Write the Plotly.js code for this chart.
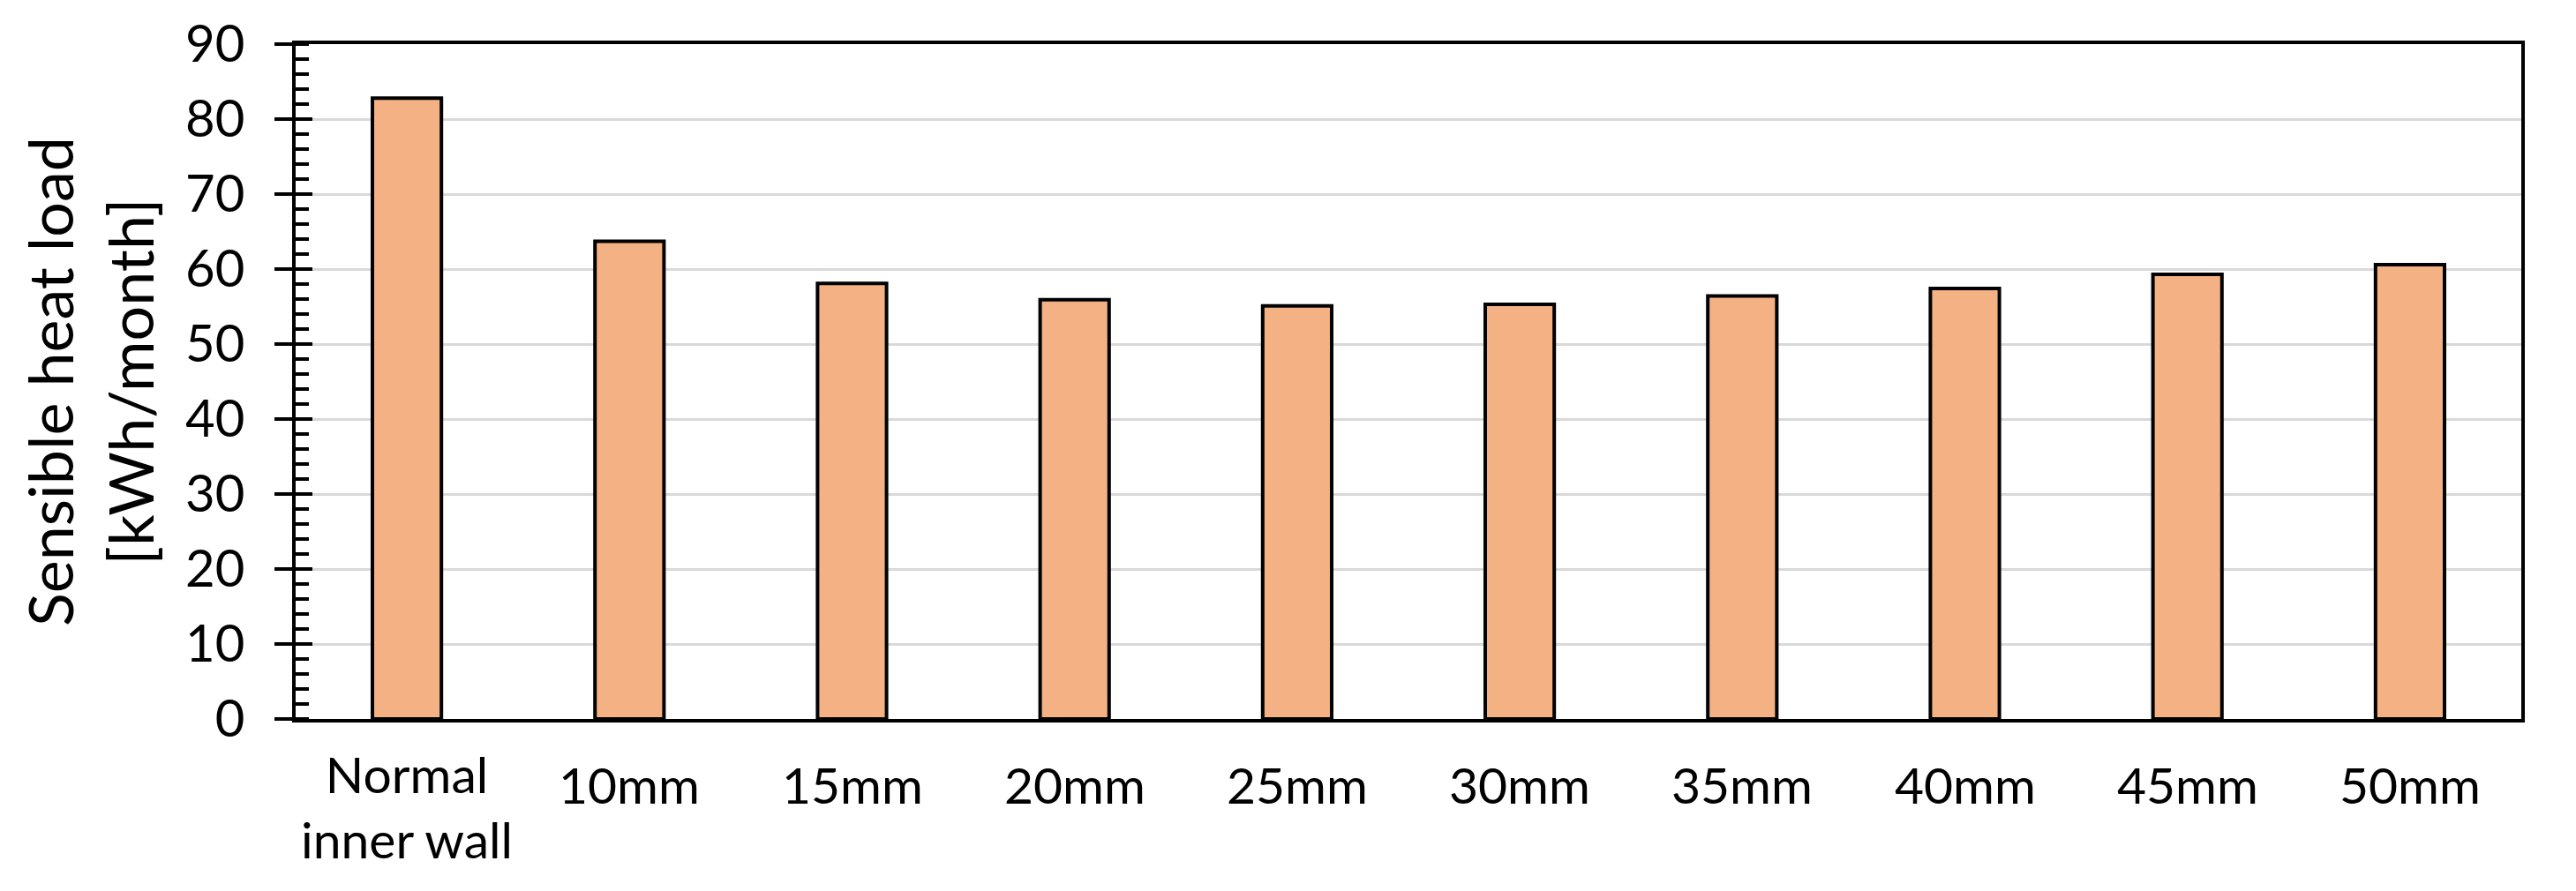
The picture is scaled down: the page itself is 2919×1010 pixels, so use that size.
<!DOCTYPE html>
<html>
<head>
<meta charset="utf-8">
<script src="https://cdn.plot.ly/plotly-3.0.1.min.js"></script>
<style>
  html, body { margin: 0; padding: 0; background: #fff; }
  #chart { width: 2919px; height: 1010px; }
</style>
</head>
<body>
<div id="chart"></div>
<script>
// categories and values
const categories = ['Normal<br>inner wall', '10mm', '15mm', '20mm', '25mm', '30mm', '35mm', '40mm', '45mm', '50mm'];
const heatLoad = [82.8, 63.7, 58.1, 55.9, 55.1, 55.3, 56.4, 57.4, 59.3, 60.6];
const yTicks = [0, 10, 20, 30, 40, 50, 60, 70, 80, 90];

const font = 'Lato, "Open Sans", sans-serif';

const bars = {
  x: categories,
  y: heatLoad,
  type: 'bar',
  width: 0.31,
  marker: { color: '#F4B183', line: { color: '#000', width: 4 } },
  hoverinfo: 'skip'
};

// x labels as annotations; two-line label sits a little lower like Excel does it
const labels = categories.map(c => {
  const multi = c.includes('<br>');
  return {
    x: c, y: multi ? -0.129 : -0.097, xref: 'x', yref: 'paper',
    text: c, showarrow: false, yanchor: 'middle', xanchor: 'center',
    font: { family: font, size: 57, color: '#000' }
  };
});

const layout = {
  width: 2919,
  height: 1010,
  margin: { l: 335, r: 62, t: 50, b: 195 },
  paper_bgcolor: '#fff',
  plot_bgcolor: '#fff',
  showlegend: false,
  font: { family: font, color: '#000' },
  xaxis: {
    type: 'category',
    showticklabels: false,
    ticks: '',
    showgrid: false,
    showline: true, mirror: true, linecolor: '#000', linewidth: 4,
    zeroline: false
  },
  yaxis: {
    range: [0, 90],
    tickvals: yTicks,
    ticks: 'outside', ticklen: 20, tickwidth: 4, tickcolor: '#000',
    tickfont: { family: font, size: 58, color: '#000' },
    ticklabelstandoff: 22,
    showgrid: true, gridcolor: '#D9D9D9', gridwidth: 3,
    showline: true, mirror: true, linecolor: '#000', linewidth: 4,
    zeroline: false,
    minor: { dtick: 2, ticks: 'inside', ticklen: 15, tickwidth: 4, tickcolor: '#000', showgrid: false },
    title: {
      text: 'Sensible heat load<br>[kWh/month]',
      font: { family: font, size: 70, color: '#000' },
      standoff: 14
    }
  },
  // second axis only for the inner half of the crossing major ticks
  yaxis2: {
    overlaying: 'y', side: 'left', anchor: 'x',
    range: [0, 90],
    tickvals: yTicks,
    ticks: 'inside', ticklen: 19, tickwidth: 4, tickcolor: '#000',
    showticklabels: false, showgrid: false, showline: false, zeroline: false
  },
  annotations: labels
};

const ghost = { x: categories, y: heatLoad, type: 'scatter', mode: 'none', yaxis: 'y2', hoverinfo: 'skip' };

Plotly.newPlot('chart', [bars, ghost], layout, { staticPlot: true });
</script>
</body>
</html>
